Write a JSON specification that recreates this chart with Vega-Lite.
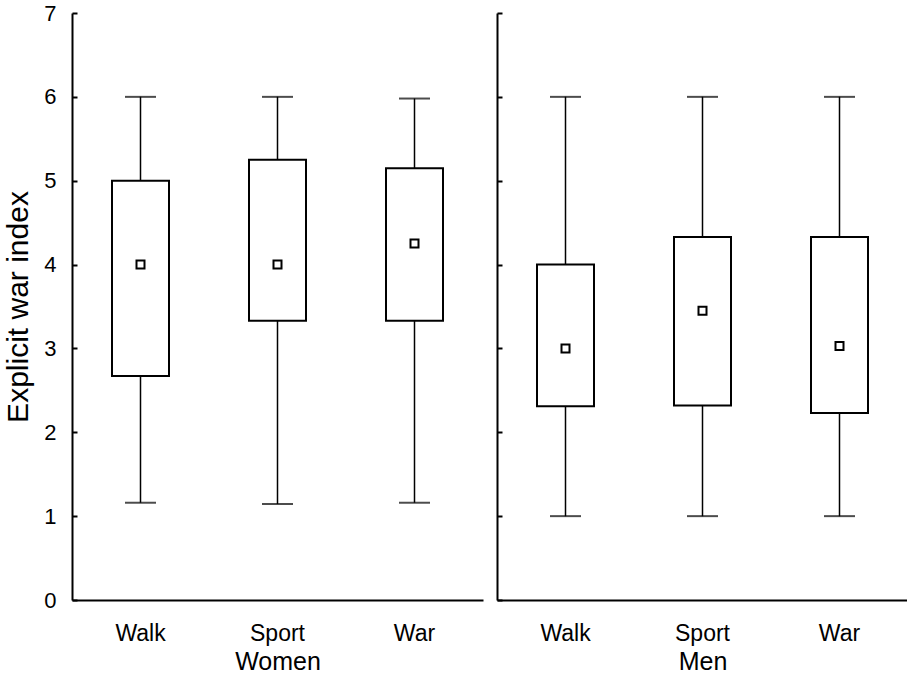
{
  "$schema": "https://vega.github.io/schema/vega-lite/v6.json",
  "autosize": {"type": "pad"},
  "padding": {"left": 3, "top": 2, "right": 0, "bottom": 0},
  "background": "white",
  "config": {
    "view": {"stroke": null},
    "font": "Liberation Sans",
    "axis": {
      "domainColor": "black",
      "domainWidth": 2,
      "tickColor": "black",
      "tickWidth": 2,
      "labelColor": "black",
      "titleColor": "black",
      "titleFontWeight": "normal",
      "grid": false
    },
    "concat": {"spacing": 13}
  },
  "datasets": {
    "boxes": [
      {"group": "Women", "condition": "Walk", "lower": 1.16, "q1": 2.67, "median": 4.0, "q3": 5.0, "upper": 6.0},
      {"group": "Women", "condition": "Sport", "lower": 1.145, "q1": 3.33, "median": 4.0, "q3": 5.25, "upper": 6.0},
      {"group": "Women", "condition": "War", "lower": 1.16, "q1": 3.33, "median": 4.25, "q3": 5.15, "upper": 5.98},
      {"group": "Men", "condition": "Walk", "lower": 1.0, "q1": 2.31, "median": 3.0, "q3": 4.0, "upper": 6.0},
      {"group": "Men", "condition": "Sport", "lower": 1.0, "q1": 2.32, "median": 3.45, "q3": 4.33, "upper": 6.0},
      {"group": "Men", "condition": "War", "lower": 1.0, "q1": 2.23, "median": 3.03, "q3": 4.33, "upper": 6.0}
    ]
  },
  "hconcat": [
    {
      "width": 411,
      "height": 587,
      "data": {"name": "boxes"},
      "transform": [{"filter": "datum.group === 'Women'"}],
      "layer": [
        {
          "mark": {"type": "rule", "color": "black", "strokeWidth": 1.5},
          "encoding": {
            "x": {
              "field": "condition", "type": "nominal",
              "sort": ["Walk", "Sport", "War"],
              "scale": {"paddingInner": 0, "paddingOuter": 0},
              "axis": {"title": "Women", "labelAngle": 0, "ticks": false, "labelPadding": 22, "labelFontSize": 23, "titleFontSize": 25, "titlePadding": 4}
            },
            "y": {"field": "lower", "type": "quantitative", "scale": {"domain": [0, 7], "nice": false},
              "axis": {"title": "Explicit war index", "values": [0, 1, 2, 3, 4, 5, 6, 7], "format": "d", "tickSize": -5, "labelPadding": 21, "labelFontSize": 22, "titleFontSize": 30, "titlePadding": 10}},
            "y2": {"field": "upper"}
          }
        },
        {
          "mark": {"type": "tick", "color": "black", "thickness": 2, "size": 31},
          "encoding": {"x": {"field": "condition", "type": "nominal", "sort": ["Walk", "Sport", "War"]}, "y": {"field": "upper", "type": "quantitative"}}
        },
        {
          "mark": {"type": "tick", "color": "black", "thickness": 2, "size": 31},
          "encoding": {"x": {"field": "condition", "type": "nominal", "sort": ["Walk", "Sport", "War"]}, "y": {"field": "lower", "type": "quantitative"}}
        },
        {
          "mark": {"type": "bar", "fill": "white", "stroke": "black", "strokeWidth": 2, "size": 57},
          "encoding": {"x": {"field": "condition", "type": "nominal", "sort": ["Walk", "Sport", "War"]}, "y": {"field": "q1", "type": "quantitative"}, "y2": {"field": "q3"}}
        },
        {
          "mark": {"type": "point", "shape": "square", "size": 64, "fill": "white", "stroke": "black", "strokeWidth": 2, "opacity": 1},
          "encoding": {"x": {"field": "condition", "type": "nominal", "sort": ["Walk", "Sport", "War"]}, "y": {"field": "median", "type": "quantitative"}}
        }
      ]
    },
    {
      "width": 411,
      "height": 587,
      "data": {"name": "boxes"},
      "transform": [{"filter": "datum.group === 'Men'"}],
      "layer": [
        {
          "mark": {"type": "rule", "color": "black", "strokeWidth": 1.5},
          "encoding": {
            "x": {
              "field": "condition", "type": "nominal",
              "sort": ["Walk", "Sport", "War"],
              "scale": {"paddingInner": 0, "paddingOuter": 0},
              "axis": {"title": "Men", "labelAngle": 0, "ticks": false, "labelPadding": 22, "labelFontSize": 23, "titleFontSize": 25, "titlePadding": 4}
            },
            "y": {"field": "lower", "type": "quantitative", "scale": {"domain": [0, 7], "nice": false},
              "axis": {"title": null, "labels": false, "values": [0, 1, 2, 3, 4, 5, 6, 7], "tickSize": -5}},
            "y2": {"field": "upper"}
          }
        },
        {
          "mark": {"type": "tick", "color": "black", "thickness": 2, "size": 31},
          "encoding": {"x": {"field": "condition", "type": "nominal", "sort": ["Walk", "Sport", "War"]}, "y": {"field": "upper", "type": "quantitative"}}
        },
        {
          "mark": {"type": "tick", "color": "black", "thickness": 2, "size": 31},
          "encoding": {"x": {"field": "condition", "type": "nominal", "sort": ["Walk", "Sport", "War"]}, "y": {"field": "lower", "type": "quantitative"}}
        },
        {
          "mark": {"type": "bar", "fill": "white", "stroke": "black", "strokeWidth": 2, "size": 57},
          "encoding": {"x": {"field": "condition", "type": "nominal", "sort": ["Walk", "Sport", "War"]}, "y": {"field": "q1", "type": "quantitative"}, "y2": {"field": "q3"}}
        },
        {
          "mark": {"type": "point", "shape": "square", "size": 64, "fill": "white", "stroke": "black", "strokeWidth": 2, "opacity": 1},
          "encoding": {"x": {"field": "condition", "type": "nominal", "sort": ["Walk", "Sport", "War"]}, "y": {"field": "median", "type": "quantitative"}}
        }
      ]
    }
  ]
}
